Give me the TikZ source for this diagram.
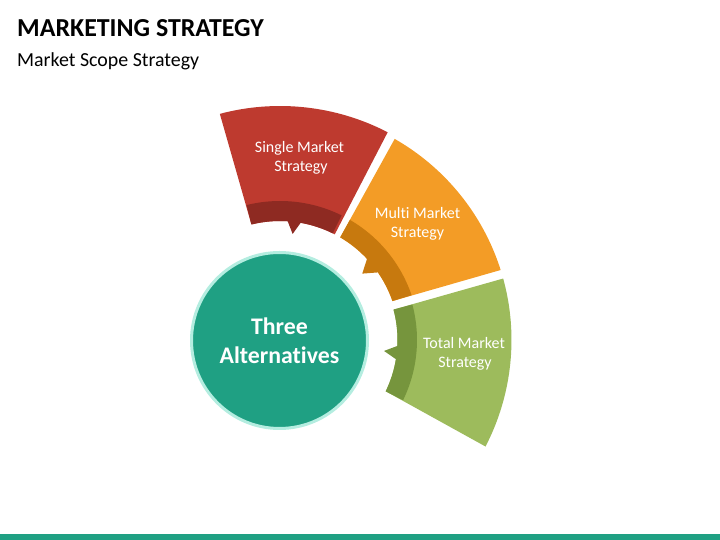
\documentclass[tikz,border=0pt]{standalone}
\usepackage{fontspec}
\setmainfont[Ligatures=NoCommon]{Carlito}
\usetikzlibrary{calc}
\definecolor{redlight}{HTML}{BE3A2F}
\definecolor{reddark}{HTML}{8E2A22}
\definecolor{orangelight}{HTML}{F39C26}
\definecolor{orangedark}{HTML}{C7790E}
\definecolor{greenlight}{HTML}{9DBB5C}
\definecolor{greendark}{HTML}{76953D}
\definecolor{tealmain}{HTML}{1FA083}
\definecolor{tealring}{HTML}{B4EDE0}
\tikzset{
	seglabel/.style={align=center,text=white,font=\fontsize{16}{19}\selectfont},
}
\begin{document}
\begin{tikzpicture}[x=1pt,y=1pt]
	\useasboundingbox (0,0) rectangle (720,540);
	\def\R{231.5}	%outer radius
	\def\b{139}	%top of dark band
	\def\r{119}	%inner radius
	\coordinate (c) at (280,200);
	
	%HEADER
	\node[anchor=west,inner sep=0,font=\fontsize{25.9}{28}\selectfont\bfseries] (title) at (17,511.5) {MARKETING STRATEGY};
	\node[anchor=west,inner sep=0,font=\fontsize{19.9}{23}\selectfont] (subtitle) at (17,478.5) {Market Scope Strategy};
	
	%RED
	\fill[redlight] ($(c)+(104.9:234)$) arc[start angle=104.9,end angle=62.6,radius=234]
		-- ($(c)+(62.6:\r)$) arc[start angle=62.6,end angle=103.9,radius=\r] -- cycle;
	\fill[reddark] ($(c)+(103.9:\b)$) arc[start angle=103.9,end angle=63.7,radius=\b]
		-- ($(c)+(63.7:\r)$) arc[start angle=63.7,end angle=80,radius=\r]
		-- ($(c)+(83.2:106.8)$) -- ($(c)+(86.3:\r)$)
		arc[start angle=86.3,end angle=103.9,radius=\r] -- cycle;
	\node[seglabel] (single) at (299.5,382.5) {Single Market\\\hspace*{3pt}Strategy};
	
	%ORANGE
	\fill[orangelight] ($(c)+(60.3:\R)$) arc[start angle=60.3,end angle=17.6,radius=\R]
		-- ($(c)+(19.1:\r)$) arc[start angle=19.1,end angle=59.6,radius=\r] -- cycle;
	\fill[orangedark] ($(c)+(59.8:\b)$) arc[start angle=59.8,end angle=18.8,radius=\b]
		-- ($(c)+(19.1:\r)$) arc[start angle=19.1,end angle=34.6,radius=\r]
		-- ($(c)+(38.9:105.7)$) -- ($(c)+(43:\r)$)
		arc[start angle=43,end angle=59.6,radius=\r] -- cycle;
	\node[seglabel] (multi) at (417.5,316.5) {Multi Market\\Strategy};
	
	%GREEN
	\fill[greenlight] ($(c)+(15.4:\R)$) arc[start angle=15.4,end angle=-27.4,radius=\R]
		-- ($(c)+(-25.9:117.5)$) arc[start angle=-25.9,end angle=15,radius=117.5] -- cycle;
	\fill[greendark] ($(c)+(15:137)$) arc[start angle=15,end angle=-26.1,radius=137]
		-- ($(c)+(-25.9:117.5)$) arc[start angle=-25.9,end angle=-9.4,radius=117.5]
		-- ($(c)+(-6:104.6)$) -- ($(c)+(-2.9:117.5)$)
		arc[start angle=-2.9,end angle=15,radius=117.5] -- cycle;
	\node[seglabel] (total) at (464,186.5) {Total Market\\\hspace*{2pt}Strategy};
	
	%MIDDLE
	\node[circle,minimum size=176,inner sep=0,fill=tealmain,draw=tealring,line width=3,align=center,text=white,font=\fontsize{23.8}{29}\selectfont\bfseries] (three) at (279.5,199.5) {Three\\Alternatives};
	
	%BOTTOM
	\fill[tealmain] (0,0) rectangle (720,6);
\end{tikzpicture}
\end{document}
